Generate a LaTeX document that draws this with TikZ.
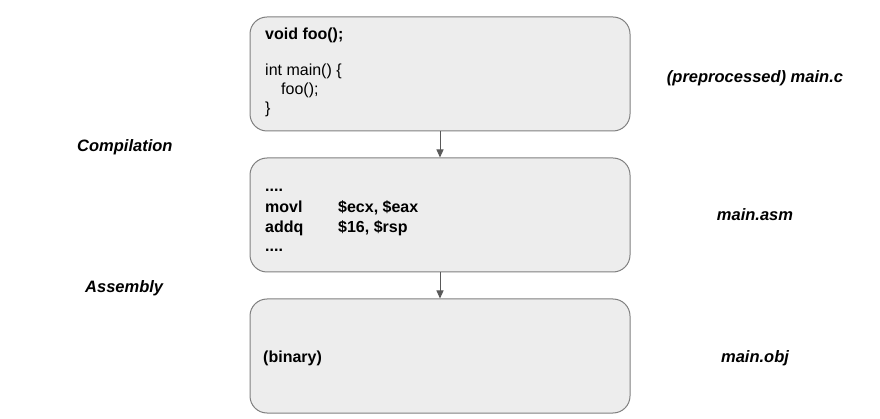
\documentclass[tikz,border=0pt]{standalone}
\usepackage{fontspec}
\setmainfont{Liberation Sans}
\usetikzlibrary{arrows.meta}
\begin{document}
\begin{tikzpicture}[x=1pt,y=-1pt,
  stagebox/.style={draw=black!50, fill=black!7, line width=1pt, rounded corners=17pt},
  codetxt/.style={anchor=base west, inner sep=0pt, font=\fontsize{16}{19}\selectfont},
  lbl/.style={anchor=base, inner sep=0pt, font=\fontsize{16.5}{19}\selectfont\bfseries\itshape},
  flow/.style={draw=black!65, line width=1pt, -{Triangle[length=8pt,width=7pt]}}]
\useasboundingbox (0,0) rectangle (880,419);
% boxes
\node[stagebox, minimum width=380pt, minimum height=114pt] (src) at (440,74) {};
\node[stagebox, minimum width=380pt, minimum height=114pt] (asm) at (440,215) {};
\node[stagebox, minimum width=380pt, minimum height=114pt] (obj) at (440,356) {};
% box 1 text
\node[codetxt, font=\fontsize{16}{19}\selectfont\bfseries] (l1) at (265,40) {void foo();};
\node[codetxt] (l2) at (265,76) {int main() \{};
\node[codetxt] (l3) at (281,95) {foo();};
\node[codetxt] (l4) at (265,114) {\}};
% box 2 text
\node[codetxt, font=\fontsize{16}{19}\selectfont\bfseries] (a1) at (265,192) {....};
\node[codetxt, font=\fontsize{16}{19}\selectfont\bfseries] (a2) at (265,213) {movl};
\node[codetxt, font=\fontsize{16}{19}\selectfont\bfseries] (a3) at (338,213) {\$ecx, \$eax};
\node[codetxt, font=\fontsize{16}{19}\selectfont\bfseries] (a4) at (265,233) {addq};
\node[codetxt, font=\fontsize{16}{19}\selectfont\bfseries] (a5) at (338,233) {\$16, \$rsp};
\node[codetxt, font=\fontsize{16}{19}\selectfont\bfseries] (a6) at (265,252) {....};
% box 3 text
\node[codetxt, font=\fontsize{16}{19}\selectfont\bfseries] (b1) at (263,362) {(binary)};
% right labels
\node[lbl] (r1) at (755,83) {(preprocessed) main.c};
\node[lbl] (r2) at (755,221) {main.asm};
\node[lbl] (r3) at (755,362) {main.obj};
% left labels
\node[lbl, anchor=base west] (c1) at (77,152) {Compilation};
\node[lbl, anchor=base west] (c2) at (85,293) {Assembly};
% arrows
\draw[flow] (src.south) -- (asm.north);
\draw[flow] (asm.south) -- (obj.north);
\end{tikzpicture}
\end{document}
